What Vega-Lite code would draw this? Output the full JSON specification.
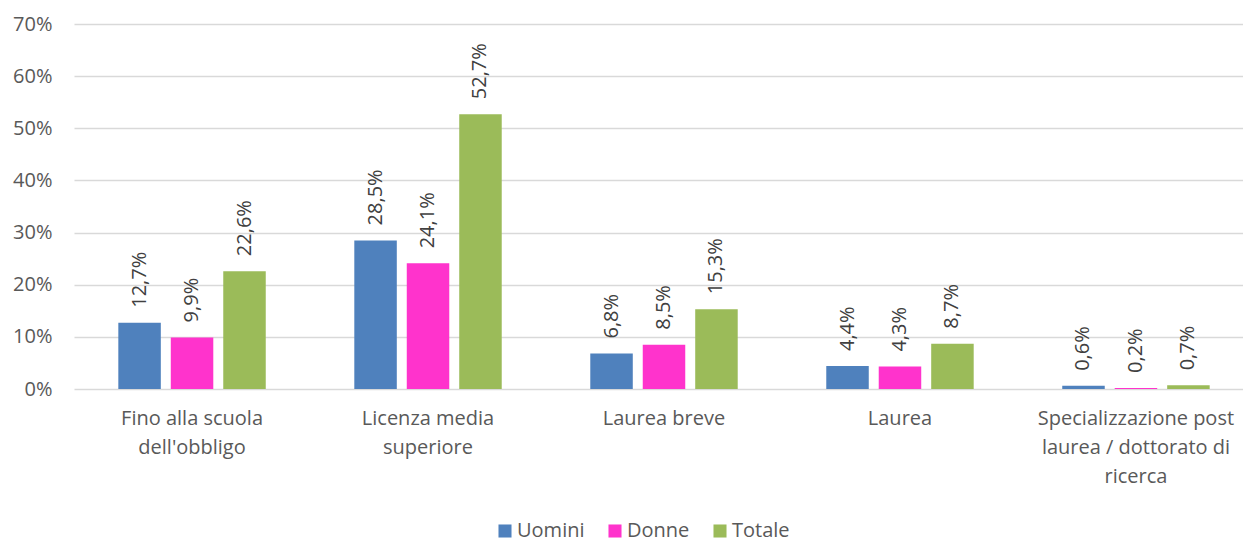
{
  "$schema": "https://vega.github.io/schema/vega-lite/v6.json",
  "width": 1169,
  "height": 365,
  "autosize": "none",
  "padding": {"left": 74, "top": 24, "right": 0, "bottom": 153},
  "background": "white",
  "config": {
    "view": {"stroke": null},
    "font": "Open Sans",
    "locale": {"number": {"decimal": ",", "thousands": ".", "grouping": [3], "currency": ["€", ""]}}
  },
  "data": {
    "values": [
      {"categoria": "Fino alla scuola dell'obbligo", "gruppo": "Uomini", "valore": 0.127},
      {"categoria": "Fino alla scuola dell'obbligo", "gruppo": "Donne", "valore": 0.099},
      {"categoria": "Fino alla scuola dell'obbligo", "gruppo": "Totale", "valore": 0.226},
      {"categoria": "Licenza media superiore", "gruppo": "Uomini", "valore": 0.285},
      {"categoria": "Licenza media superiore", "gruppo": "Donne", "valore": 0.241},
      {"categoria": "Licenza media superiore", "gruppo": "Totale", "valore": 0.527},
      {"categoria": "Laurea breve", "gruppo": "Uomini", "valore": 0.068},
      {"categoria": "Laurea breve", "gruppo": "Donne", "valore": 0.085},
      {"categoria": "Laurea breve", "gruppo": "Totale", "valore": 0.153},
      {"categoria": "Laurea", "gruppo": "Uomini", "valore": 0.044},
      {"categoria": "Laurea", "gruppo": "Donne", "valore": 0.043},
      {"categoria": "Laurea", "gruppo": "Totale", "valore": 0.087},
      {"categoria": "Specializzazione post laurea / dottorato di ricerca", "gruppo": "Uomini", "valore": 0.006},
      {"categoria": "Specializzazione post laurea / dottorato di ricerca", "gruppo": "Donne", "valore": 0.002},
      {"categoria": "Specializzazione post laurea / dottorato di ricerca", "gruppo": "Totale", "valore": 0.007}
    ]
  },
  "encoding": {
    "x": {
      "field": "categoria",
      "type": "nominal",
      "sort": null,
      "scale": {"range": [0, 1180], "paddingInner": 0.333, "paddingOuter": 0.1667},
      "axis": {
        "title": null,
        "labelAngle": 0,
        "domain": false,
        "ticks": false,
        "labelPadding": 19,
        "labelFontSize": 20,
        "labelColor": "#595959",
        "labelLineHeight": 29,
        "labelBaseline": "top",
        "labelOverlap": false,
        "labelBound": false,
        "labelLimit": 0,
        "labelExpr": "datum.value == \"Fino alla scuola dell'obbligo\" ? ['Fino alla scuola', \"dell'obbligo\"] : datum.value == 'Licenza media superiore' ? ['Licenza media', 'superiore'] : datum.value == 'Specializzazione post laurea / dottorato di ricerca' ? ['Specializzazione post', 'laurea / dottorato di', 'ricerca'] : datum.value"
      }
    },
    "xOffset": {
      "field": "gruppo",
      "type": "nominal",
      "sort": ["Uomini", "Donne", "Totale"],
      "scale": {"paddingInner": 0.19, "paddingOuter": 0.095}
    },
    "y": {
      "field": "valore",
      "type": "quantitative",
      "scale": {"domain": [0, 0.7], "nice": false},
      "axis": {
        "title": null,
        "format": ".0%",
        "values": [0, 0.1, 0.2, 0.3, 0.4, 0.5, 0.6, 0.7],
        "domain": false,
        "ticks": false,
        "labelOverlap": false,
        "labelPadding": 22,
        "labelFontSize": 20,
        "labelColor": "#595959",
        "gridColor": "#d9d9d9",
        "gridWidth": 1.3
      }
    }
  },
  "layer": [
    {
      "mark": {"type": "bar"},
      "encoding": {
        "color": {
          "field": "gruppo",
          "type": "nominal",
          "sort": ["Uomini", "Donne", "Totale"],
          "scale": {"domain": ["Uomini", "Donne", "Totale"], "range": ["#4F81BD", "#FF33CC", "#9BBB59"]},
          "legend": {
            "title": null,
            "orient": "none",
            "direction": "horizontal",
            "legendX": 421,
            "legendY": 497,
            "symbolType": "square",
            "symbolSize": 170,
            "symbolStrokeWidth": 0,
            "labelFontSize": 20,
            "labelColor": "#595959",
            "labelOffset": 2,
            "columnPadding": 20
          }
        }
      }
    },
    {
      "mark": {"type": "text", "angle": 270, "align": "left", "baseline": "middle", "dx": 15, "fontSize": 20, "color": "#404040"},
      "encoding": {
        "text": {"field": "valore", "type": "quantitative", "format": ".1%"}
      }
    }
  ]
}
